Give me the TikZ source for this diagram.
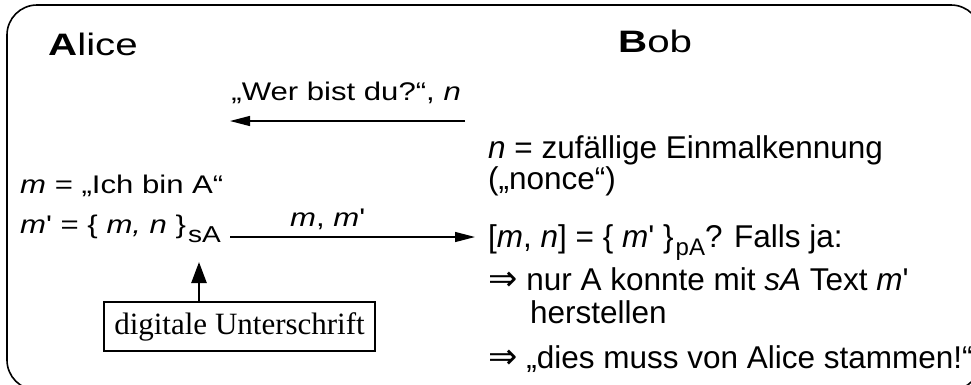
\documentclass[tikz,border=0pt]{standalone}
\usepackage{fontspec}
\setmainfont{Liberation Sans}[Ligatures=TeXOff]
\newfontfamily\stretchsans{Liberation Sans}[FakeStretch=1.22,Ligatures=TeXOff]
\newfontfamily\titlesans{Liberation Sans}[FakeStretch=1.3,Ligatures=TeXOff]
\newfontfamily\boxserif{Liberation Serif}[Ligatures=TeXOff]
\newfontfamily\arrowfont{DejaVu Sans}
\usetikzlibrary{arrows.meta}
\newcommand\lowsub[3]{\hspace{2pt}\raisebox{-#2}{\fontsize{#1}{#1}\selectfont #3}}
\newcommand\implarrow{{\arrowfont\fontsize{35}{35}\selectfont ⇒}}
\tikzset{
 lbl/.style={font=\stretchsans\fontsize{25.5}{30}\selectfont, inner sep=0pt, anchor=base west},
 rtxt/.style={font=\fontsize{31.5}{36}\selectfont, inner sep=0pt, anchor=base west},
 ttl/.style={font=\titlesans\fontsize{31}{36}\selectfont, inner sep=0pt, anchor=base west},
 msg/.style={line width=1.3pt, -{Triangle[length=20pt,width=10pt]}},
 sigbox/.style={draw, line width=2pt, font=\boxserif\fontsize{31}{36}\selectfont, minimum width=271pt, minimum height=49pt, inner sep=0pt},
 frame/.style={line width=1.6pt, rounded corners=30pt}
}
\begin{document}
\begin{tikzpicture}[x=1pt,y=-1pt]
\useasboundingbox (0,0) rectangle (971,384);
\clip (0,0) rectangle (971,384);
\draw[frame] (7,5) rectangle (981,390);
\node[ttl] (alice) at (48,55) {\textbf{A}lice};
\node[ttl] (bob) at (618,52) {\textbf{B}ob};
\coordinate (w1) at (465,121);
\coordinate (w2) at (230,121);
\draw[msg] (w1) -- (w2);
\node[lbl, anchor=base east] (wer) at (461,100) {„Wer bist du?“, \textit{n}};
\node[rtxt] (nonce) at (488,158) {\textit{n} = zufällige Einmalkennung};
\node[rtxt] (nonce2) at (488,189) {(„nonce“)};
\node[lbl] (m1) at (20,193) {\textit{m} = „Ich bin A“};
\node[lbl] (m2) at (20,233) {\textit{m}' = \{ \textit{m, n} \}\lowsub{23}{9pt}{sA}};
\coordinate (s1) at (230,237);
\coordinate (s2) at (475,237);
\draw[msg] (s1) -- (s2);
\node[lbl] (mm) at (290,226) {\textit{m}, \textit{m}'};
\node[rtxt] (chk) at (488,247) {[\textit{m}, \textit{n}] = \{ \textit{m}' \}\lowsub{24}{8pt}{pA}? Falls ja:};
\node[rtxt] (c2) at (488,290) {\implarrow{} nur A konnte mit \textit{sA} Text \textit{m}'};
\node[rtxt] (c3) at (530,323) {herstellen};
\node[rtxt] (c4) at (488,368) {\implarrow{} „dies muss von Alice stammen!“};
\node[sigbox] (sig) at (239.5,326.5) {digitale Unterschrift};
\coordinate (tip) at (199,262);
\draw[line width=2.5pt, -{Triangle[length=21pt,width=15pt]}] (sig.north -| tip) -- (tip);
\end{tikzpicture}
\end{document}
